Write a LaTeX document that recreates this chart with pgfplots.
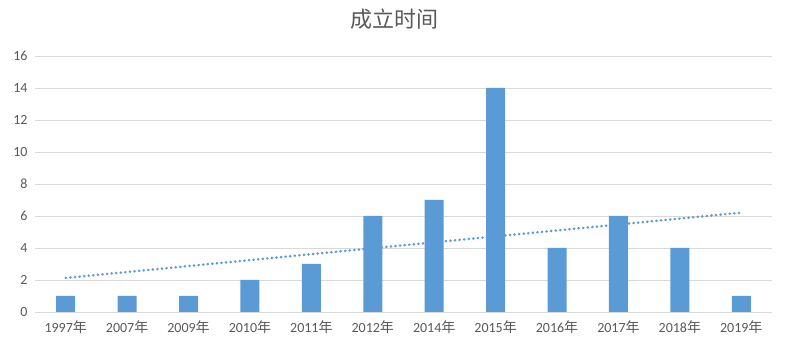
\documentclass[border=0pt]{standalone}
\usepackage{pgfplots}
\pgfplotsset{compat=1.18}
\usepackage{fontspec}
\setmainfont{Carlito}
\newfontfamily\cjk{Noto Sans CJK SC}
\definecolor{barblue}{HTML}{5B9BD5}
\definecolor{txtgray}{HTML}{595959}
\definecolor{gridgray}{HTML}{D9D9D9}
\begin{document}
\begin{tikzpicture}
\useasboundingbox (0pt,0pt) rectangle (788pt,352pt);
\node[text=txtgray,font=\cjk\fontsize{22}{24}\selectfont] at (394pt,333pt) {成立时间};
\begin{axis}[
  at={(35pt,40pt)}, anchor=south west,
  scale only axis, width=737pt, height=256pt,
  xmin=-0.5, xmax=11.5, ymin=0, ymax=16,
  ytick={0,2,...,16},
  xtick={0,...,11},
  xticklabels={1997{\cjk 年},2007{\cjk 年},2009{\cjk 年},2010{\cjk 年},2011{\cjk 年},2012{\cjk 年},2014{\cjk 年},2015{\cjk 年},2016{\cjk 年},2017{\cjk 年},2018{\cjk 年},2019{\cjk 年}},
  axis line style={draw=none},
  ymajorgrids, grid style={gridgray, line width=0.9pt},
  major tick length=0pt,
  tick label style={text=txtgray, font=\fontsize{14}{16}\selectfont},
  /pgf/number format/assume math mode=true,
  yticklabel style={xshift=-4pt},
  xticklabel style={yshift=-5pt},
  clip=false,
]
\addplot[ybar, bar width=19pt, fill=barblue, draw=none] coordinates {
(0,1) (1,1) (2,1) (3,2) (4,3) (5,6) (6,7) (7,14) (8,4) (9,6) (10,4) (11,1)};
\addplot[barblue, line width=2.6pt, dash pattern=on 0.3pt off 4.3pt, line cap=round] coordinates {(0,2.13) (11,6.21)};
\end{axis}
\end{tikzpicture}
\end{document}
